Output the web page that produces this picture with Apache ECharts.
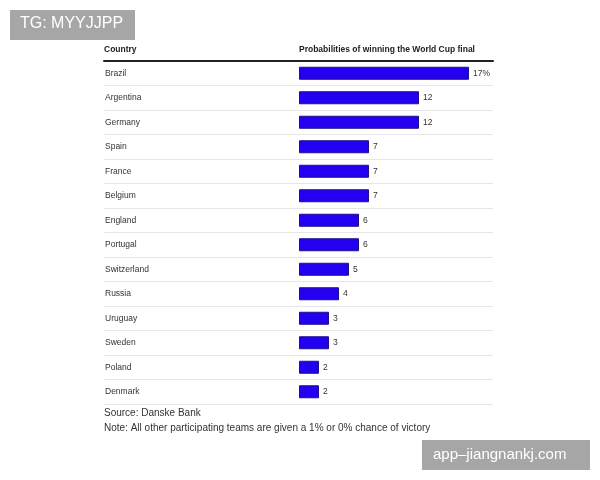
<!DOCTYPE html>
<html><head><meta charset="utf-8">
<script src="https://cdn.jsdelivr.net/npm/echarts@6/dist/echarts.min.js"></script>
<style>html,body{margin:0;padding:0;background:#fff}#c{width:600px;height:480px}</style>
</head><body><div id="c"></div>
<script>
var countries = ["Brazil","Argentina","Germany","Spain","France","Belgium","England","Portugal","Switzerland","Russia","Uruguay","Sweden","Poland","Denmark"];
var probabilities = [17,12,12,7,7,7,6,6,5,4,3,3,2,2];
var headerCountry = "Country";
var headerValue = "Probabilities of winning the World Cup final";
var sourceText = "Source: Danske Bank";
var noteText = "Note: All other participating teams are given a 1% or 0% chance of victory";

var FONT = '"Liberation Sans", Arial, sans-serif';
var chart = echarts.init(document.getElementById('c'));
chart.setOption({
  animation: false,
  grid: {left: 104, top: 61, width: 389, height: 343},
  xAxis: {
    type: 'value', position: 'top', min: -19.5, max: 19.4,
    axisLine: {show: true, onZero: false, lineStyle: {color: '#222', width: 2}},
    axisTick: {show: false}, axisLabel: {show: false}, splitLine: {show: false}
  },
  yAxis: {
    type: 'category', data: countries, inverse: true,
    axisLine: {show: false}, axisTick: {show: false},
    axisLabel: {inside: true, margin: 1, color: '#333', fontSize: 8.5, fontFamily: FONT},
    splitLine: {show: true, lineStyle: {color: '#e6e6e6', width: 1}}
  },
  series: [{
    type: 'bar', data: probabilities, barWidth: 13,
    itemStyle: {color: '#2300f0', borderColor: '#1c1090', borderWidth: 1},
    label: {show: true, position: 'right', distance: 4, color: '#333', fontSize: 8.5, fontFamily: FONT,
      formatter: function(p){ return p.dataIndex === 0 ? p.value + '%' : String(p.value); }}
  }],
  graphic: [
    {type: 'text', left: 104, top: 45, style: {text: headerCountry, font: 'bold 8.5px ' + FONT, fill: '#222'}},
    {type: 'text', left: 299, top: 45, style: {text: headerValue, font: 'bold 8.5px ' + FONT, fill: '#222'}},
    {type: 'text', left: 104, top: 408, style: {text: sourceText, font: '10px ' + FONT, fill: '#333'}},
    {type: 'text', left: 104, top: 423, style: {text: noteText, font: '10px ' + FONT, fill: '#333'}},
    {type: 'rect', shape: {x: 10, y: 10, width: 125, height: 30}, style: {fill: '#a6a6a6'}},
    {type: 'text', left: 20, top: 16, style: {text: 'TG: MYYJJPP', font: '16px ' + FONT, fill: '#fff'}},
    {type: 'rect', shape: {x: 422, y: 440, width: 168, height: 30}, style: {fill: '#a6a6a6'}},
    {type: 'text', left: 433, top: 447, style: {text: 'app\u2013jiangnankj.com', font: '15px ' + FONT, fill: '#fff'}}
  ]
});
</script></body></html>
